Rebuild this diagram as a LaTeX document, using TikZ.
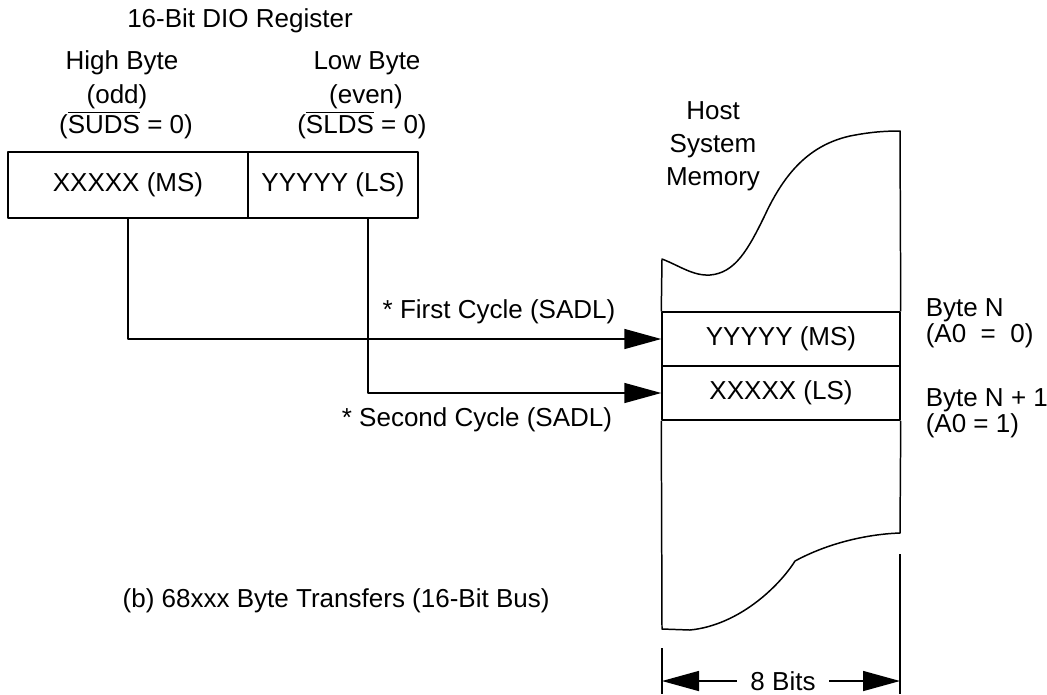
\documentclass[tikz,border=0pt]{standalone}
\usepackage{fontspec}
\setmainfont{Liberation Sans}
\usetikzlibrary{arrows.meta}

\begin{document}
\begin{tikzpicture}[x=0.02cm, y=-0.02cm, line width=0.85pt, line join=round,
  font=\fontsize{14.8}{18.7}\selectfont, >={Triangle[length=0.74cm,width=0.4cm]},
  cell/.style={draw, minimum height=1.32cm, inner sep=0pt},
  membyte/.style={draw, minimum width=4.76cm, minimum height=1.08cm, inner sep=0pt},
  lbl/.style={inner sep=0pt},
  side/.style={anchor=west, align=left, inner sep=0pt, font=\fontsize{14.8}{15}\selectfont}]
\useasboundingbox (0,0) rectangle (1047,694);
\node[lbl] (title) at (240,21) {16-Bit DIO Register};
\node[lbl] (hiname) at (122,63) {High Byte};
\node[lbl] (hiodd) at (117,97) {(odd)};
\node[lbl] (hisel) at (126,125) {($\overline{\mbox{SUDS}}$ = 0)};
\node[lbl] (loname) at (367,63) {Low Byte};
\node[lbl] (loeven) at (366,97) {(even)};
\node[lbl] (losel) at (362,125) {($\overline{\mbox{SLDS}}$ = 0)};
\node[cell, minimum width=4.8cm] (hi) at (128,185) {XXXXX (MS)};
\node[cell, minimum width=3.4cm] (lo) at (333,185) {YYYYY (LS)};
\node[membyte] (ybyte) at (781,339) {YYYYY (MS)};
\node[membyte] (xbyte) at (781,393) {XXXXX (LS)};
\draw (ybyte.north west) -- (662,259) .. controls (680,266) and (693,276) .. (710,275)
  .. controls (735,273) and (748,250) .. (765,215) .. controls (785,172) and (810,145) .. (850,136)
  .. controls (870,132) and (885,131) .. (900,131) -- (ybyte.north east);
\draw (xbyte.south east) -- (900,533) .. controls (870,534) and (830,542) .. (795,561)
  .. controls (780,585) and (740,625) .. (690,630) -- (662,629) -- (xbyte.south west);
\node[lbl, align=center] (host) at (713,146) {Host\\System\\Memory};
\node[side] (byten) at (925,323) {Byte N\\(A0 \ = \ 0)};
\node[side] (bytenn) at (925,413) {Byte N + 1\\(A0 = 1)};
\draw[->] (hi.south) |- (ybyte.west);
\draw[->] ([xshift=0.7cm]lo.south) |- (xbyte.west);
\node[lbl] (first) at (499,312) {* First Cycle (SADL)};
\node[lbl] (second) at (477,420) {* Second Cycle (SADL)};
\coordinate (dimL) at (662,681);
\coordinate (dimR) at (900,681);
\draw (662,648) -- (662,694) (900,554) -- (900,694);
\node[lbl, inner xsep=0.26cm] (bits) at (783,681) {8 Bits};
\draw[->] (bits) -- (dimL);
\draw[->] (bits) -- (dimR);
\node[lbl, anchor=west] (caption) at (122,601) {(b) 68xxx Byte Transfers (16-Bit Bus)};
\end{tikzpicture}
\end{document}
